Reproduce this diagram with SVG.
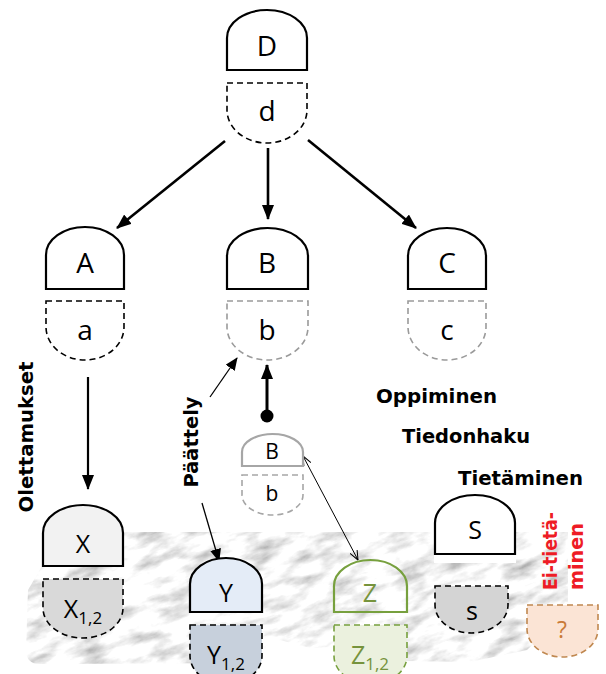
<svg xmlns="http://www.w3.org/2000/svg" width="606" height="674" viewBox="0 0 606 674">
  <style>
    .dome { fill: #ffffff; stroke: #000000; stroke-width: 2.2; }
    .bowl { fill: #ffffff; stroke: #000000; stroke-width: 1.6; stroke-dasharray: 6 4; }
    .grey { stroke: #9a9a9a; }
    .lbl { font-family: "Open Sans", "Noto Sans", sans-serif; font-size: 28px; text-anchor: middle; fill: #000000; }
    .sm { font-size: 25px; }
    .sub { font-size: 17px; }
    .tag { font-family: "DejaVu Sans", "Liberation Sans", sans-serif; font-weight: bold; font-size: 20px; fill: #000000; }
    .red { fill: #ee1c25; }
    .conn { fill: none; stroke: #000000; }
  </style>
  <defs>
    <marker id="ah" markerWidth="15" markerHeight="12" refX="14" refY="6" orient="auto" markerUnits="userSpaceOnUse">
      <path d="M0,0 L15,6 L0,12 Z" fill="#000"/>
    </marker>
    <marker id="ahs" markerWidth="13" markerHeight="11" refX="12" refY="5.5" orient="auto" markerUnits="userSpaceOnUse">
      <path d="M0,0 L13,5.5 L0,11 Z" fill="#000"/>
    </marker>
    <marker id="vee" markerWidth="10" markerHeight="9" refX="9.5" refY="4.5" orient="auto-start-reverse" markerUnits="userSpaceOnUse">
      <path d="M0,0.5 L9.5,4.5 L0,8.5" fill="none" stroke="#000" stroke-width="1"/>
    </marker>
    <!-- marble: pale grey base with diagonal veining -->
    <filter id="marble" x="-200" y="300" width="1000" height="600" filterUnits="userSpaceOnUse">
      <feTurbulence type="fractalNoise" baseFrequency="0.03 0.075" numOctaves="5" seed="11" result="n"/>
      <feColorMatrix in="n" type="matrix" values="1.25 0 0 0 0.30  1.25 0 0 0 0.30  1.25 0 0 0 0.30  0 0 0 0 1"/>
    </filter>
    <clipPath id="slab">
      <path d="M123,532 L568,532 L568,610 L527,650 L470,662 L340,660 L332,647 L310,648 L280,640 L266,646 L262,663 L40,664 Q26,664 26,650 L28,590 L42,566 L43,540 Z"/>
    </clipPath>
  </defs>

  <!-- stone slab under the lower row -->
  <g id="slab-ground" clip-path="url(#slab)">
    <g transform="rotate(-20 300 600)">
      <rect x="-100" y="400" width="800" height="400" filter="url(#marble)"/>
    </g>
  </g>

  <!-- connectors -->
  <g id="connectors">
    <line class="conn" x1="225" y1="141" x2="117" y2="228" stroke-width="2.6" marker-end="url(#ah)"/>
    <line class="conn" x1="268" y1="148" x2="268" y2="219" stroke-width="2.6" marker-end="url(#ah)"/>
    <line class="conn" x1="308" y1="140" x2="416" y2="228" stroke-width="2.6" marker-end="url(#ah)"/>
    <line class="conn" x1="88" y1="377" x2="88" y2="489" stroke-width="2.2" marker-end="url(#ah)"/>
    <line class="conn" x1="267" y1="412" x2="267" y2="365" stroke-width="3" marker-end="url(#ah)"/>
    <circle cx="267" cy="416" r="6.5" fill="#000"/>
    <line class="conn" x1="210" y1="397" x2="237" y2="358" stroke-width="1.3" marker-end="url(#ahs)"/>
    <line class="conn" x1="202" y1="503" x2="219" y2="561" stroke-width="1.3" marker-end="url(#ahs)"/>
    <line class="conn" x1="303" y1="456" x2="358" y2="560" stroke-width="1" marker-start="url(#vee)" marker-end="url(#vee)"/>
  </g>

  <g id="node-D">
    <path class="dome" d="M227,70 V38 A40,28 0 0 1 307,38 V70 Z"/>
    <path class="bowl" d="M227,83 H307 V110 A40,33 0 0 1 227,110 Z"/>
    <text class="lbl" x="267" y="56">D</text>
    <text class="lbl" x="267" y="121">d</text>
  </g>

  <g id="node-A">
    <path class="dome" d="M46,289 V255 A39,28 0 0 1 124,255 V289 Z"/>
    <path class="bowl" d="M46,301 H124 V327 A39,33 0 0 1 46,327 Z"/>
    <text class="lbl" x="85" y="273">A</text>
    <text class="lbl" x="85" y="340">a</text>
  </g>

  <g id="node-B">
    <path class="dome" d="M227,289 V256 A40.5,28 0 0 1 308,256 V289 Z"/>
    <path class="bowl grey" d="M227,301 H308 V327 A40.5,33 0 0 1 227,327 Z"/>
    <text class="lbl" x="267" y="273">B</text>
    <text class="lbl" x="267" y="340">b</text>
  </g>

  <g id="node-C">
    <path class="dome" d="M408,289 V256 A39,28 0 0 1 486,256 V289 Z"/>
    <path class="bowl grey" d="M408,301 H486 V327 A39,33 0 0 1 408,327 Z"/>
    <text class="lbl" x="447" y="273">C</text>
    <text class="lbl" x="447" y="340">c</text>
  </g>

  <g id="node-B-small">
    <path class="dome" d="M242,466 V452 A30.5,18 0 0 1 303,452 V466 Z" style="stroke:#a6a6a6"/>
    <path class="bowl" d="M242,475 H303 V495 A30.5,20 0 0 1 242,495 Z" style="stroke:#a6a6a6"/>
    <text class="lbl" x="272" y="459" style="font-size:21px">B</text>
    <text class="lbl" x="272" y="501" style="font-size:21px">b</text>
  </g>

  <g id="node-X">
    <path class="dome" d="M43,566 V533 A40,28 0 0 1 123,533 V566 Z" style="fill:#f2f2f2"/>
    <path class="bowl" d="M43,579 H123 V608 A40,30 0 0 1 43,608 Z" style="fill:#d9d9d9"/>
    <text class="lbl sm" x="83" y="553">X</text>
    <text class="lbl sm" x="83" y="618">X<tspan class="sub" dy="6">1,2</tspan></text>
  </g>

  <g id="node-Y">
    <path class="dome" d="M190,612 V584 A36,26 0 0 1 262,584 V612 Z" style="fill:#e4ecf7"/>
    <path class="bowl" d="M190,625 H262 V656 A36,28 0 0 1 190,656 Z" style="fill:#c7d0dc"/>
    <text class="lbl sm" x="226" y="602">Y</text>
    <text class="lbl sm" x="226" y="664">Y<tspan class="sub" dy="6">1,2</tspan></text>
  </g>

  <g id="node-Z">
    <path class="dome" d="M334,612 V586 A36.5,26 0 0 1 407,586 V612 Z" style="fill:none;stroke:#77a03e"/>
    <path class="bowl" d="M334,625 H407 V656 A36.5,28 0 0 1 334,656 Z" style="fill:#ebf1de;stroke:#77a03e"/>
    <text class="lbl sm" x="370" y="602" style="fill:#76933c">Z</text>
    <text class="lbl sm" x="370" y="664" style="fill:#76933c">Z<tspan class="sub" dy="6">1,2</tspan></text>
  </g>

  <g id="node-S">
    <rect x="434" y="554" width="82" height="9" fill="#ffffff"/>
    <path class="dome" d="M435,554 V523 A40,28 0 0 1 515,523 V554 Z"/>
    <path class="bowl" d="M435,586 H508 V605 A36.5,28 0 0 1 435,605 Z" style="fill:#d4d4d4"/>
    <text class="lbl sm" x="475" y="539">S</text>
    <text class="lbl sm" x="472" y="620">s</text>
  </g>

  <g id="node-unknown">
    <path class="bowl" d="M527,605 H598 V629 A35.5,28 0 0 1 527,629 Z" style="fill:#fbe4d5;stroke:#c08850"/>
    <text class="lbl" x="562" y="638" style="fill:#c97a38;font-size:23px">?</text>
  </g>

  <!-- side captions -->
  <g id="captions">
    <text class="tag" transform="translate(33,437) rotate(-90)" text-anchor="middle" textLength="151" lengthAdjust="spacingAndGlyphs">Olettamukset</text>
    <text class="tag" transform="translate(198,442) rotate(-90)" text-anchor="middle" textLength="91" lengthAdjust="spacingAndGlyphs">Päättely</text>
    <text class="tag" x="376" y="403" textLength="121" lengthAdjust="spacingAndGlyphs">Oppiminen</text>
    <text class="tag" x="402" y="443" textLength="128" lengthAdjust="spacingAndGlyphs">Tiedonhaku</text>
    <text class="tag" x="458" y="485" textLength="125" lengthAdjust="spacingAndGlyphs">Tietäminen</text>
    <text class="tag red" transform="translate(557,590) rotate(-90)" textLength="78" lengthAdjust="spacingAndGlyphs">Ei-tietä-</text>
    <text class="tag red" transform="translate(583,590) rotate(-90)" textLength="67" lengthAdjust="spacingAndGlyphs">minen</text>
  </g>
</svg>
